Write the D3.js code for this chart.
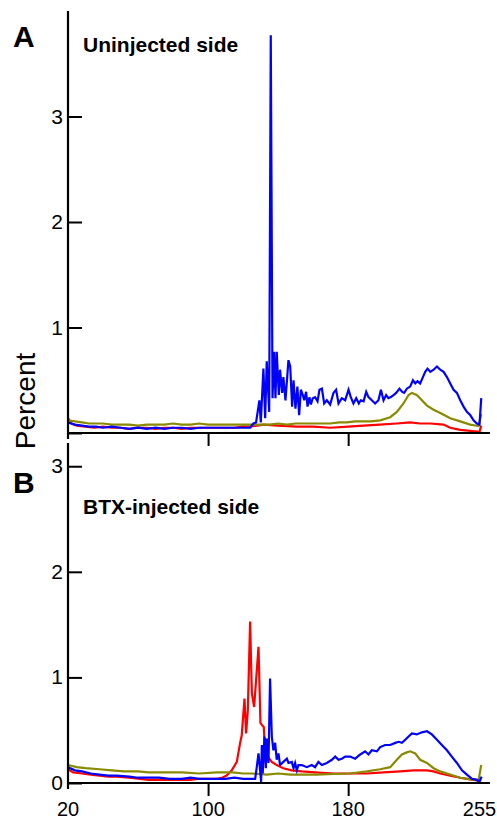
<!DOCTYPE html>
<html lang="en">
<head>
    <meta charset="UTF-8">
    <script src="https://d3js.org/d3.v7.min.js"></script>
    <style>
        body { margin: 0; background: #fff; }
        text { font-family: "Liberation Sans", Arial, sans-serif; }
    </style>
</head>
<body>
    <script>
        // x ticks (shared), y ticks per panel
        var xTicks = [20, 100, 180, 255];
        var yTicksA = [0, 1, 2, 3];
        var yTicksB = [0, 1, 2, 3];

        // panel A - uninjected side, [grey level, percent]
        var aBlue = [[20,0.10],[24,0.08],[28,0.07],[32,0.06],[36,0.06],[40,0.05],[45,0.06],[50,0.05],[55,0.04],[60,0.05],[65,0.04],[70,0.05],[75,0.04],[80,0.05],[85,0.05],[90,0.04],[95,0.05],[100,0.05],[105,0.05],[110,0.05],[115,0.05],[120,0.05],[124,0.05],
            [125.9,0.09],[127.4,0.10],[129.3,0.31],[130.1,0.10],[131.6,0.61],[132.6,0.14],[133.5,0.68],[134.9,0.20],[135.8,3.77],[136.8,0.33],[137.7,0.77],[138.5,0.33],[139.2,0.77],[140.4,0.36],[141.1,0.60],[142.3,0.38],[143.0,0.53],[144.2,0.31],[145.9,0.69],[146.9,0.63],[148.0,0.25],[148.8,0.50],[149.9,0.23],[151.0,0.44],[152.0,0.17],[153.0,0.41],[154.1,0.36],[154.9,0.31],[156.0,0.39],[156.8,0.25],[157.9,0.34],[158.7,0.27],[159.8,0.33],
            [161.1,0.34],[162.5,0.30],[163.6,0.41],[165.0,0.42],[166.3,0.28],[167.8,0.31],[169.7,0.27],[171.6,0.38],[173.1,0.41],[174.5,0.28],[176.4,0.33],[178.3,0.31],[180.2,0.41],[181.5,0.34],[183.0,0.28],[184.6,0.33],[186.1,0.28],[187.2,0.31],[188.8,0.30],[190.3,0.39],[191.6,0.34],[193.5,0.31],[195.4,0.28],[197.3,0.31],[198.7,0.41],[200.2,0.31],[201.7,0.36],[203.0,0.33],[204.4,0.34],[205.9,0.36],[207.4,0.38],[209.3,0.42],[210.9,0.39],[212.0,0.38],[213.5,0.42],[215.4,0.44],[217.0,0.50],[218.3,0.47],[219.6,0.49],[221.1,0.47],[222.7,0.53],[224.0,0.58],[225.3,0.61],[226.9,0.58],[228.8,0.60],[230.7,0.63],[232.6,0.60],[234.5,0.58],[236.4,0.53],[238.3,0.47],[240.2,0.41],[242.1,0.38],[244.0,0.31],[245.9,0.25],[247.8,0.20],[249.7,0.17],[251.6,0.12],[253.5,0.09],[255.0,0.08],[256.0,0.33]];
        var aOlive = [[20,0.12],[24,0.11],[28,0.10],[32,0.09],[36,0.09],[40,0.09],[45,0.08],[50,0.08],[55,0.08],[60,0.07],[65,0.08],[70,0.08],[75,0.08],[80,0.09],[85,0.08],[90,0.08],[95,0.09],[100,0.08],[105,0.08],[110,0.08],[115,0.08],[120,0.08],[125,0.08],[130,0.08],[135,0.08],[140,0.09],[145,0.08],[150,0.09],[155,0.09],[160,0.09],[165,0.09],[169.7,0.09],[175,0.10],[179.2,0.10],[184,0.11],[188.8,0.11],[193,0.11],[198.3,0.12],[204,0.15],[207.8,0.20],[211.6,0.28],[214.5,0.36],[216.4,0.38],[219.2,0.36],[222.1,0.31],[225,0.26],[228.8,0.22],[232.6,0.19],[238.3,0.14],[244,0.11],[249.7,0.08],[254.5,0.066],[256,0.18]];
        var aRed = [[20,0.14],[22,0.09],[25,0.07],[30,0.06],[35,0.05],[40,0.06],[45,0.05],[50,0.05],[55,0.04],[60,0.05],[65,0.05],[70,0.04],[75,0.05],[80,0.05],[85,0.04],[90,0.05],[95,0.05],[100,0.05],[105,0.05],[110,0.05],[115,0.05],[120,0.06],[124,0.06],[131.6,0.08],[140,0.07],[150.7,0.06],[160,0.06],[169.7,0.05],[180,0.06],[188.8,0.07],[198,0.08],[207.8,0.09],[215.4,0.10],[221,0.09],[226.9,0.09],[234.5,0.08],[238.3,0.05],[244,0.03],[249.7,0.02],[255,0.01],[256,0.07]];

        // panel B - BTX-injected side
        var bBlue = [[20,0.15],[24,0.12],[28,0.11],[33,0.09],[38,0.08],[43,0.07],[48,0.07],[55,0.06],[60,0.05],[66,0.05],[72,0.05],[78,0.04],[85,0.04],[90,0.05],[95,0.04],[100,0.04],[105,0.04],[110,0.04],[115,0.05],[120,0.04],[124,0.04],
            [126.9,0.04],[127.8,0.15],[128.8,0.28],[129.7,0.12],[130.3,0.01],[130.7,0.36],[131.2,0.09],[132.2,0.44],[133.0,0.14],[133.5,0.42],[134.5,0.19],[135.4,0.99],[136.4,0.44],[137.3,0.31],[138.3,0.38],[139.2,0.22],[140.2,0.28],[141.1,0.17],[143.0,0.20],[145.0,0.23],[145.9,0.19],[147.8,0.20],[148.8,0.14],[149.7,0.19],[150.7,0.12],[151.6,0.17],[153.5,0.17],[156.4,0.15],[159.2,0.17],[161.1,0.15],
            [163.0,0.20],[165.0,0.17],[167.8,0.19],[170.7,0.22],[172.6,0.25],[174.5,0.22],[176.4,0.23],[178.3,0.25],[181.1,0.25],[184.0,0.23],[186.9,0.27],[189.7,0.30],[191.6,0.27],[193.5,0.31],[196.4,0.30],[198.3,0.34],[201.1,0.36],[204.0,0.36],[206.9,0.38],[208.8,0.39],[210.7,0.38],[212.6,0.41],[214.5,0.44],[216.4,0.47],[219.2,0.46],[222.1,0.48],[225.0,0.49],[227.8,0.46],[230.7,0.41],[233.5,0.36],[236.4,0.31],[239.2,0.25],[242.1,0.19],[245.0,0.12],[247.8,0.08],[250.7,0.04],[253.5,0.03],[255.0,0.01],[256.2,0.06]];
        var bOlive = [[20,0.17],[25,0.15],[30,0.14],[38,0.13],[45,0.12],[52,0.11],[60,0.11],[66,0.10],[75,0.10],[85,0.10],[95,0.09],[105,0.10],[114,0.10],[120,0.09],[125,0.09],[133.5,0.08],[140,0.09],[147,0.08],[152.6,0.08],[162,0.08],[171.6,0.085],[181.1,0.09],[190.7,0.11],[198.3,0.13],[204,0.15],[207.8,0.22],[210.7,0.27],[213.5,0.29],[215.4,0.30],[218.3,0.28],[221.1,0.22],[225,0.19],[228.8,0.14],[232.6,0.11],[238.3,0.08],[244,0.05],[249.7,0.035],[254.5,0.03],[256,0.17]];
        var bRed = [[20,0.13],[23,0.10],[28,0.09],[33,0.08],[38,0.07],[43,0.06],[48,0.06],[55,0.05],[60,0.04],[66,0.03],[72,0.03],[78,0.03],[85,0.03],[90,0.03],[95,0.04],[100,0.04],[105,0.04],[108,0.05],[110.6,0.07],
            [113.5,0.12],[116.4,0.20],[118.3,0.38],[119.2,0.45],[120.8,0.80],[121.7,0.47],[122.7,0.69],[124.0,1.53],[125.0,0.85],[126.3,0.72],[128.8,1.29],[129.9,0.57],[130.7,0.55],[131.8,0.53],[132.6,0.28],[134.1,0.25],[136.4,0.20],[139.2,0.17],[143.0,0.14],[147.8,0.12],[153.5,0.11],[161.1,0.10],[171.6,0.09],[181.1,0.09],[190.7,0.09],[200.2,0.10],[209.7,0.11],[217.3,0.12],[225,0.12],[228.8,0.11],[232.6,0.09],[238.3,0.07],[244,0.05],[249.7,0.035],[255.4,0.02]];

        var colBlue = "#0000ff", colOlive = "#8a8a00", colRed = "#ff0000";

        var svg = d3.select("body").append("svg")
            .attr("width", 497)
            .attr("height", 821);

        var x = d3.scaleLinear().domain([20, 261]).range([68, 490]);

        function panel(yTop, yBottom, yMax, yTicks, blue, olive, red, showXLabels, showZero) {
            var y = d3.scaleLinear().domain([0, yMax]).range([yBottom, yTop]);

            var line = d3.line().x(d => x(d[0])).y(d => y(d[1]));

            svg.append("path").datum(red).attr("d", line)
                .attr("fill", "none").attr("stroke", colRed).attr("stroke-width", 2.2);
            svg.append("path").datum(olive).attr("d", line)
                .attr("fill", "none").attr("stroke", colOlive).attr("stroke-width", 2.2);
            svg.append("path").datum(blue).attr("d", line)
                .attr("fill", "none").attr("stroke", colBlue).attr("stroke-width", 2.2);

            // y axis, ticks pointing inward
            var yAxis = svg.append("g").attr("transform", "translate(68,0)")
                .call(d3.axisRight(y).tickValues(yTicks).tickSize(14).tickFormat(""));
            yAxis.select(".domain").remove();
            yAxis.selectAll("line").attr("stroke", "#000").attr("stroke-width", 2);
            svg.append("line").attr("x1", 68).attr("x2", 68)
                .attr("y1", yTop).attr("y2", yBottom + 6)
                .attr("stroke", "#000").attr("stroke-width", 2.2);

            svg.selectAll(null).data(yTicks.filter(d => d > 0 || showZero)).enter().append("text")
                .attr("x", 63).attr("y", d => y(d) + 7)
                .attr("text-anchor", "end")
                .attr("font-size", "21px")
                .text(d => d);

            // x axis, ticks pointing down
            var xAxis = svg.append("g").attr("transform", "translate(0," + yBottom + ")")
                .call(d3.axisBottom(x).tickValues([100, 180]).tickSize(13).tickFormat(""));
            xAxis.select(".domain").remove();
            xAxis.selectAll("line").attr("stroke", "#000").attr("stroke-width", 2);
            svg.append("line").attr("x1", 67).attr("x2", 490)
                .attr("y1", yBottom).attr("y2", yBottom)
                .attr("stroke", "#000").attr("stroke-width", 2.2);

            if (showXLabels) {
                svg.selectAll(null).data(xTicks).enter().append("text")
                    .attr("x", d => x(d)).attr("y", 816)
                    .attr("text-anchor", "middle")
                    .attr("font-size", "20px")
                    .text(d => d);
            }
        }

        panel(11, 433, 4.0, yTicksA, aBlue, aOlive, aRed, false, false);
        panel(443, 783, 3.22, yTicksB, bBlue, bOlive, bRed, true, true);

        // panel letters and titles
        svg.append("text").attr("x", 13).attr("y", 47).attr("font-size", "30px").attr("font-weight", "bold").text("A");
        svg.append("text").attr("x", 13).attr("y", 493).attr("font-size", "30px").attr("font-weight", "bold").text("B");
        svg.append("text").attr("x", 83).attr("y", 52).attr("font-size", "21px").attr("font-weight", "bold").text("Uninjected side");
        svg.append("text").attr("x", 83).attr("y", 514).attr("font-size", "21px").attr("font-weight", "bold").text("BTX-injected side");

        svg.append("text")
            .attr("transform", "translate(35,401) rotate(-90)")
            .attr("text-anchor", "middle")
            .attr("font-size", "28px")
            .text("Percent");
    </script>
</body>
</html>
